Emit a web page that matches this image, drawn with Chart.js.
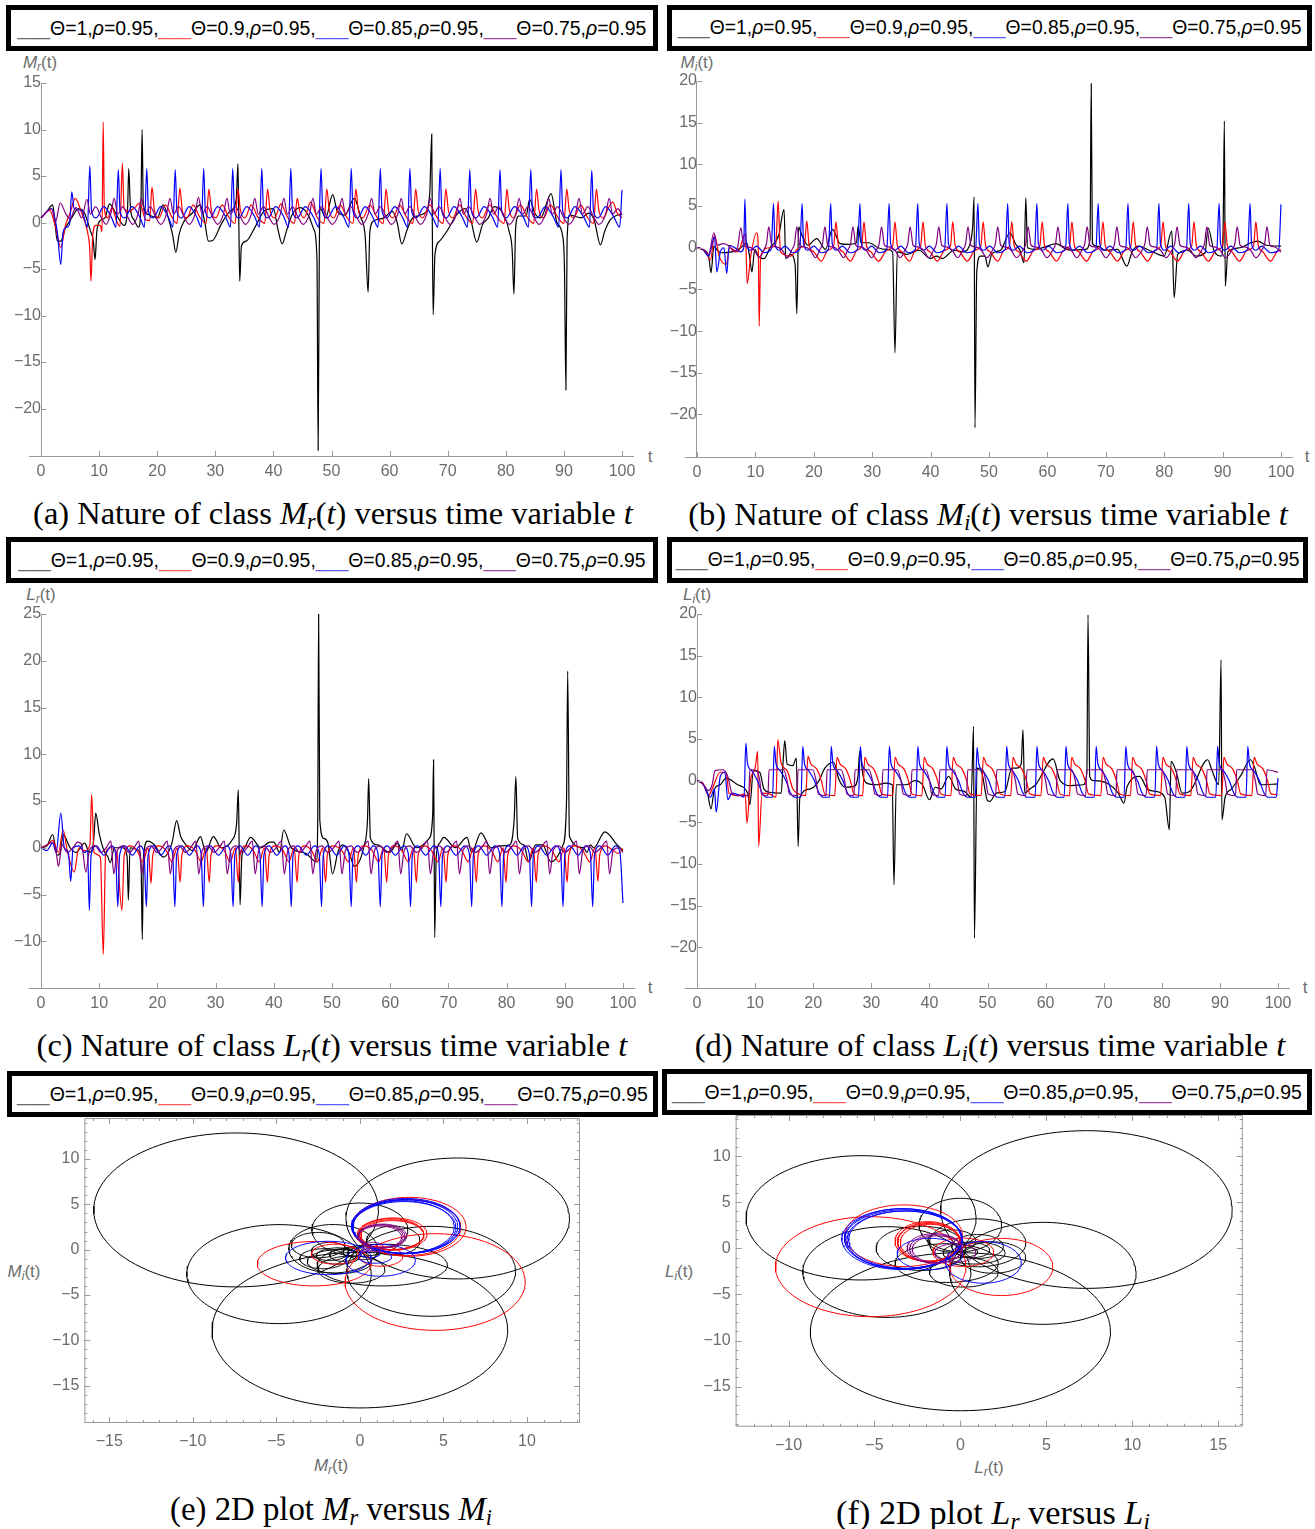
<!DOCTYPE html>
<html>
<head>
<meta charset="utf-8">
<script src="https://cdn.jsdelivr.net/npm/chart.js@4.4.1/dist/chart.umd.min.js"></script>
<style>
body{margin:0;background:#fff;}
#page{position:relative;width:1315px;height:1529px;overflow:hidden;font-family:"Liberation Sans",Arial,sans-serif;background:#fff;}
canvas{position:absolute;}
.legend{position:absolute;box-sizing:border-box;border:5px solid #000;background:#fff;display:flex;align-items:center;justify-content:center;white-space:nowrap;color:#000;font-size:19px;}
.ax{position:absolute;transform:translate(-50%,-50%);color:#6e6e6e;font-size:17px;white-space:nowrap;}
.ax sub{font-size:12px;vertical-align:-3px;line-height:0}
.cap{position:absolute;transform:translate(-50%,-50%);font-family:"Liberation Serif","Times New Roman",serif;font-size:26px;white-space:nowrap;color:#000}
.cap sub{font-size:0.68em;vertical-align:-0.25em;line-height:0}
</style>
</head>
<body>
<div id="page">
  <span class="ax" style="left:40px;top:63px"><i>M</i><sub><i>r</i></sub>(t)</span>
  <span class="ax" style="left:697px;top:63px"><i>M</i><sub><i>i</i></sub>(t)</span>
  <span class="ax" style="left:41px;top:595px"><i>L</i><sub><i>r</i></sub>(t)</span>
  <span class="ax" style="left:697px;top:595px"><i>L</i><sub><i>i</i></sub>(t)</span>
  <span class="ax" style="left:650px;top:457px">t</span>
  <span class="ax" style="left:1307px;top:457px">t</span>
  <span class="ax" style="left:650px;top:988px">t</span>
  <span class="ax" style="left:1305px;top:988px">t</span>
  <span class="ax" style="left:331px;top:1466px"><i>M</i><sub><i>r</i></sub>(t)</span>
  <span class="ax" style="left:24px;top:1272px"><i>M</i><sub><i>i</i></sub>(t)</span>
  <span class="ax" style="left:989px;top:1468px"><i>L</i><sub><i>r</i></sub>(t)</span>
  <span class="ax" style="left:679px;top:1272px"><i>L</i><sub><i>i</i></sub>(t)</span>

  <div class="cap" data-w="600" style="left:333px;top:513px">(a) Nature of class <i>M</i><sub><i>r</i></sub>(<i>t</i>) versus time variable <i>t</i></div>
  <div class="cap" data-w="600" style="left:988px;top:514px">(b) Nature of class <i>M</i><sub><i>i</i></sub>(<i>t</i>) versus time variable <i>t</i></div>
  <div class="cap" data-w="591" style="left:332px;top:1045px">(c) Nature of class <i>L</i><sub><i>r</i></sub>(<i>t</i>) versus time variable <i>t</i></div>
  <div class="cap" data-w="591" style="left:990px;top:1045px">(d) Nature of class <i>L</i><sub><i>i</i></sub>(<i>t</i>) versus time variable <i>t</i></div>
  <div class="cap" data-w="322" style="left:331px;top:1509px">(e) 2D plot <i>M</i><sub><i>r</i></sub> versus <i>M</i><sub><i>i</i></sub></div>
  <div class="cap" data-w="314" style="left:993px;top:1512px">(f) 2D plot <i>L</i><sub><i>r</i></sub> versus <i>L</i><sub><i>i</i></sub></div>
</div>
<script>
// ---- data ----
const thetaValues = ['1', '0.9', '0.85', '0.75'];
const rhoValue = '0.95';
const lineColors = ['#000000', '#ff0000', '#0000ff', '#800080'];
const dashColors = ['#6a6a6a', '#ff5a5a', '#5a5aff', '#a248a2'];

const tTicks = [0, 10, 20, 30, 40, 50, 60, 70, 80, 90, 100];
const aYTicks = [-20, -15, -10, -5, 0, 5, 10, 15];
const bYTicks = [-20, -15, -10, -5, 0, 5, 10, 15, 20];
const cYTicks = [-10, -5, 0, 5, 10, 15, 20, 25];
const dYTicks = [-20, -15, -10, -5, 0, 5, 10, 15, 20];
const eXTicks = [-15, -10, -5, 0, 5, 10];
const eYTicks = [-15, -10, -5, 0, 5, 10];
const fXTicks = [-10, -5, 0, 5, 10, 15];
const fYTicks = [-15, -10, -5, 0, 5, 10];

// (a) M_r(t): pairs t, value
const mrBlack = [0,0.5, 1,1.2, 2,1.9, 2.4,0, 2.8,-2, 3.4,-2, 4.2,-0.6, 5,0.2, 6.5,1.5, 7.5,1.0, 8.5,-0.9, 9.0,-2.0, 9.3,-4.0, 9.6,-1.0, 10.2,0.2, 11,0.5, 11.8,2.0, 13,0.8, 14.3,-0.3, 14.9,1.5, 15.1,5.8, 15.4,1.5, 16,0.3, 16.8,-0.5, 17.2,2, 17.4,10, 17.6,2, 18.3,0.9, 20,0.5, 21,1.9, 22,0.3, 22.7,-1.5, 23.2,-3.2, 23.8,-1.2, 24.5,0, 26,1.0, 27.4,1.9, 28.2,0, 28.8,-2.0, 29.6,-1.9, 31,-0.2, 32.5,1.2, 33.6,2.5, 33.9,6.3, 34.05,0, 34.2,-6.3, 34.5,-2.5, 35.3,-2.0, 37,-0.3, 38.5,1.3, 40,1.5, 40.8,-0.8, 41.5,-2.3, 42.2,-1.0, 43.2,0.8, 44.6,1.6, 46,0.8, 47,-0.8, 47.5,-4, 47.7,-24.5, 47.9,-3, 48.1,1.5, 49,0.5, 50.2,3.0, 51,1.2, 52.3,0.8, 53.9,2.6, 55,0.6, 55.8,-1.5, 56.3,-7.5, 56.6,-1, 57.3,0.2, 59,0.5, 60.5,1.2, 61.3,0, 62.1,-2.3, 63,-0.8, 64,0.5, 66,1.0, 66.9,3, 67.25,9.5, 67.35,0, 67.5,-9.9, 67.8,-3.5, 68.6,-2, 70,-0.8, 71.5,0.8, 73,1.5, 74,0.2, 75,-2.1, 76,-0.2, 77,0.5, 78,1.7, 79.5,1.0, 80.6,-1.0, 81.1,-3, 81.4,-7.7, 81.7,-0.5, 82.2,0.7, 83.5,0.7, 84.1,2.5, 85,1.0, 86,0.5, 87.8,3.1, 88.8,0, 89.8,-1.5, 90.1,-5, 90.35,-18, 90.55,-2, 91,0.8, 93,0.5, 94.3,1.0, 95.2,0.3, 96.3,-2.4, 97,-1.0, 98,0.3, 100,1.0];
const mrRed = [0,0.5, 1.5,1.3, 2.5,-0.5, 3.4,-2.7, 4.2,-0.3, 5.0,1.0, 5.9,2.6, 7,1.0, 8,-1.0, 8.4,-3, 8.6,-6.3, 8.9,-1.5, 9.4,-0.3, 10.2,-0.3, 10.5,-1.0, 10.7,10.8, 10.9,1.5, 11.5,0.5, 12.2,1.6, 13,0.2, 13.6,-0.4, 14,6.4, 14.3,1.5, 15,1.2, 16,1.5, 17,2.1, 18,0.3, 18.7,0.2,
  19.1,3.8, 19.5,1.4, 20.3,0.5, 21.4,1.9, 22.5,0.6, 23.4,-0.1,
  23.9,3.7, 24.3,1.4, 25.1,0.5, 26.2,1.9, 27.3,0.6, 28.4,-0.1,
  28.9,3.6, 29.3,1.4, 30.1,0.5, 31.2,1.9, 32.3,0.6, 33.4,-0.1,
  33.9,3.6, 34.3,1.4, 35.1,0.5, 36.2,1.9, 37.3,0.6, 38.5,-0.1,
  39.0,3.6, 39.4,1.4, 40.2,0.5, 41.3,2.0, 42.4,0.6, 43.6,-0.1,
  44.1,2.6, 44.5,1.3, 45.3,0.5, 46.4,2.2, 47.5,0.6, 48.7,-0.1,
  49.2,3.6, 49.6,1.4, 50.4,0.5, 51.5,1.9, 52.6,0.6, 53.7,-0.1,
  54.2,3.6, 54.6,1.4, 55.4,0.5, 56.6,1.9, 57.8,0.6, 58.9,-0.1,
  59.4,3.6, 59.8,1.4, 60.6,0.5, 61.7,1.9, 62.9,0.6, 64.0,-0.1,
  64.5,3.6, 64.9,1.4, 65.7,0.5, 66.9,1.9, 68.1,0.6, 69.2,-0.1,
  69.7,3.6, 70.1,1.4, 70.9,0.5, 72.0,1.9, 73.2,0.6, 74.3,-0.1,
  74.8,3.6, 75.2,1.4, 76.0,0.5, 77.2,1.9, 78.5,0.6, 79.7,-0.1,
  80.2,3.6, 80.6,1.4, 81.4,0.5, 82.5,1.9, 83.7,0.6, 84.8,-0.1,
  85.3,3.6, 85.7,1.4, 86.5,0.5, 87.7,1.9, 88.9,0.6, 90.0,-0.1,
  90.5,3.6, 90.9,1.4, 91.7,0.5, 92.9,1.9, 94.0,0.6, 95.1,-0.1,
  95.6,3.6, 96.0,1.4, 96.8,0.5, 97.6,1.5, 98.4,2.2, 99.2,1.0, 100,0.5];
const mrBlue = [0,0.5, 1.8,1.5, 2.8,-1.0, 3.4,-4.5, 3.8,-1.0, 4.4,-0.5, 4.9,-0.2, 5.3,3.3, 5.7,1.5, 7,1.3, 8.0,-0.5, 8.4,6.1,
  8.7,1.2, 9.5,0.5, 10.8,1.7, 12.1,0.6, 12.9,-0.5, 13.3,5.7,
  13.6,1.2, 14.4,0.5, 15.7,1.7, 17.0,0.6, 17.8,-0.5, 18.2,5.8,
  18.5,1.2, 19.3,0.5, 20.6,1.7, 21.9,0.6, 22.7,-0.5, 23.1,5.7,
  23.4,1.2, 24.2,0.5, 25.5,1.7, 26.8,0.6, 27.6,-0.5, 28.0,5.8,
  28.3,1.2, 29.1,0.5, 30.4,1.7, 31.8,0.6, 32.6,-0.5, 33.0,5.8,
  33.3,1.2, 34.1,0.5, 35.4,1.7, 36.8,0.6, 37.6,-0.5, 38.0,5.8,
  38.3,1.2, 39.1,0.5, 40.4,1.7, 41.8,0.6, 42.6,-0.5, 43.0,5.8,
  43.3,1.2, 44.1,0.5, 45.5,1.7, 46.9,0.6, 47.8,-0.5, 48.2,5.8,
  48.5,1.2, 49.3,0.5, 50.7,1.7, 52.1,0.6, 53.0,-0.5, 53.4,5.8,
  53.7,1.2, 54.5,0.5, 55.8,1.7, 57.1,0.6, 58.0,-0.5, 58.4,5.8,
  58.7,1.2, 59.5,0.5, 60.9,1.7, 62.2,0.6, 63.1,-0.5, 63.5,5.8,
  63.8,1.2, 64.6,0.5, 66.0,1.7, 67.4,0.6, 68.3,-0.5, 68.7,5.8,
  69.0,1.2, 69.8,0.5, 71.1,1.7, 72.5,0.6, 73.4,-0.5, 73.8,5.7,
  74.1,1.2, 74.9,0.5, 76.3,1.7, 77.7,0.6, 78.6,-0.5, 79.0,5.7,
  79.3,1.2, 80.1,0.5, 81.5,1.7, 83.0,0.6, 83.9,-0.5, 84.3,5.7,
  84.6,1.2, 85.4,0.5, 86.8,1.7, 88.2,0.6, 89.1,-0.5, 89.5,5.7,
  89.8,1.2, 90.6,0.5, 91.9,1.7, 93.4,0.6, 94.4,-0.5, 94.8,5.6,
  95.1,1.2, 95.9,0.5, 97.2,1.7, 98.6,0.6, 99.6,-0.5, 100,3.5];
const mrPurple = [0,0.5, 1.8,1.5, 2.5,0.1, 3.3,2.1, 4.3,0.9, 5.0,0.4, 6.0,1.6, 7.0,0.5, 7.9,2.5,
  8.5,0.9, 9.4,1.7, 10.4,0.5, 11.2,-0.2, 12.0,0.9, 12.6,2.6,
  13.2,0.9, 14.1,1.7, 15.0,0.5, 15.8,-0.2, 16.7,0.9, 17.3,2.6,
  17.9,0.9, 18.8,1.7, 19.8,0.5, 20.6,-0.2, 21.6,0.9, 22.2,2.6,
  22.8,0.9, 23.7,1.7, 24.7,0.5, 25.5,-0.2, 26.5,0.9, 27.1,2.7,
  27.7,0.9, 28.6,1.7, 29.6,0.5, 30.4,-0.2, 31.4,0.9, 32.0,2.6,
  32.6,0.9, 33.5,1.7, 34.4,0.5, 35.2,-0.2, 36.2,0.9, 36.8,2.6,
  37.4,0.9, 38.3,1.7, 39.3,0.5, 40.1,-0.2, 41.2,0.9, 41.8,2.6,
  42.4,0.9, 43.3,1.7, 44.3,0.5, 45.1,-0.2, 46.2,0.9, 46.8,2.6,
  47.4,0.9, 48.3,1.7, 49.3,0.5, 50.1,-0.2, 51.2,0.9, 51.8,2.6,
  52.4,0.9, 53.3,1.7, 54.4,0.5, 55.2,-0.2, 56.3,0.9, 56.9,2.6,
  57.5,0.9, 58.4,1.7, 59.5,0.5, 60.3,-0.2, 61.4,0.9, 62.0,2.6,
  62.6,0.9, 63.5,1.7, 64.5,0.5, 65.3,-0.2, 66.4,0.9, 67.0,2.6,
  67.6,0.9, 68.5,1.7, 69.6,0.5, 70.4,-0.2, 71.5,0.9, 72.1,2.6,
  72.7,0.9, 73.6,1.7, 74.7,0.5, 75.5,-0.2, 76.7,0.9, 77.3,2.6,
  77.9,0.9, 78.8,1.7, 79.8,0.5, 80.6,-0.2, 81.7,0.9, 82.3,2.6,
  82.9,0.9, 83.8,1.7, 84.9,0.5, 85.7,-0.2, 86.8,0.9, 87.4,2.6,
  88.0,0.9, 88.9,1.7, 90.0,0.5, 90.8,-0.2, 92.0,0.9, 92.6,2.6,
  93.2,0.9, 94.1,1.7, 95.2,0.5, 96.0,-0.2, 97.2,0.9, 97.8,2.6,
  98.4,0.9, 99.3,1.5, 100,0.8];

// (b) M_i(t)
const miBlack = [0,0, 1,-0.2, 2,-1.0, 2.4,-3.0, 2.9,0.2, 3.5,-0.3, 4.2,-0.6, 6,-0.5, 7.5,0.0, 8.5,0.6, 9.0,-1.0, 9.4,-2.9, 9.9,-0.2, 10.5,-1.0, 11.5,-1.3, 12.5,0.0, 14,1.5, 14.9,4.6, 15.2,-1.3, 16,-0.8, 16.8,-2.0, 17.1,-7.9, 17.4,2.5, 17.8,1.8, 19,0.3, 20.5,1.1, 22,-0.2, 23.2,2.2, 24.5,0.5, 26,0.4, 27.3,0.6, 27.6,2.6, 28.1,0.6, 29.5,0.6, 31,0.0, 32.5,-0.2, 33.5,-0.5, 33.9,-12.6, 34.3,-0.5, 36,-0.8, 38,-0.3, 40,-1.3, 41,-1.0, 42,-1.3, 44,-0.3, 45.5,-0.5, 46.5,0.0, 47.2,2.5, 47.45,6.1, 47.6,-21.6, 47.9,-3.0, 48.5,-1.0, 49.3,-1.0, 49.8,-2.3, 50.5,-0.7, 52,-0.3, 53.6,1.8, 54.5,0.5, 55.3,-0.3, 56.0,-1.8, 56.3,6.0, 56.6,0.0, 58,-0.2, 60,0.2, 61.5,0.5, 63,-0.1, 64,-0.3, 66.5,-0.2, 67.3,1, 67.5,19.7, 67.7,0.5, 68.5,0.2, 70,-0.3, 72,-0.2, 73.6,-2.2, 74.5,-0.5, 75.5,0.2, 78,-0.5, 80,-1.0, 81.3,2.0, 81.7,-6.0, 82.3,-0.8, 84,-0.3, 85.5,-1.0, 87,-0.6, 87.5,2.4, 88.5,-0.3, 89.8,-1.0, 90.1,3, 90.3,15.2, 90.45,-4.6, 90.9,-0.5, 93,0.0, 94.5,0.5, 96,0.8, 97.5,0.3, 100,0.2];
const miRed = [0,0, 1.5,-0.5, 2.3,-1.5, 3.0,1.5, 3.8,-1.0, 5.0,-2.0, 5.6,0.0, 7.0,-0.5, 8.3,1.7, 8.6,-4.3, 9.2,-1.0, 10.2,1.8, 10.5,0.0, 10.65,-9.4, 10.9,-1.0, 12.5,0.0, 13.5,0.5, 13.9,5.6, 14.3,-0.5, 16,-1.0, 17.5,0.0, 18.4,0.3, 18.8,3.2,
  19.2,0.3, 20.0,-0.5, 21.3,-1.6, 22.4,-0.3, 23.4,0.2, 23.8,3.1,
  24.2,0.3, 25.0,-0.5, 26.3,-1.6, 27.4,-0.3, 28.2,0.2, 28.6,3.1,
  29.0,0.3, 29.8,-0.5, 31.1,-1.6, 32.5,-0.3, 33.5,0.2, 33.9,3.1,
  34.3,0.3, 35.1,-0.5, 36.4,-1.6, 37.4,-0.3, 38.3,0.2, 38.7,3.1,
  39.1,0.3, 39.9,-0.5, 41.2,-1.6, 42.4,-0.3, 43.4,0.2, 43.8,3.1,
  44.2,0.3, 45.0,-0.5, 46.3,-1.6, 47.6,-0.3, 48.6,0.2, 49.0,3.1,
  49.4,0.3, 50.2,-0.5, 51.5,-1.6, 52.6,-0.3, 53.5,0.2, 53.9,3.1,
  54.3,0.3, 55.1,-0.5, 56.4,-1.6, 57.7,-0.3, 58.7,0.2, 59.1,3.1,
  59.5,0.3, 60.3,-0.5, 61.6,-1.6, 62.8,-0.3, 63.8,0.2, 64.2,3.1,
  64.6,0.3, 65.4,-0.5, 66.7,-1.6, 68.0,-0.3, 69.1,0.2, 69.5,3.1,
  69.9,0.3, 70.7,-0.5, 72.0,-1.6, 73.3,-0.3, 74.3,0.2, 74.7,3.1,
  75.1,0.3, 75.9,-0.5, 77.2,-1.6, 78.4,-0.3, 79.4,0.2, 79.8,3.1,
  80.2,0.3, 81.0,-0.5, 82.3,-1.6, 83.6,-0.3, 84.7,0.2, 85.1,3.1,
  85.5,0.3, 86.3,-0.5, 87.6,-1.6, 88.9,-0.3, 90.0,0.2, 90.4,3.1,
  90.8,0.3, 91.6,-0.5, 92.9,-1.6, 94.2,-0.3, 95.3,0.2, 95.7,3.1,
  96.1,0.3, 96.9,-0.5, 98.2,-1.6, 99.3,-0.5, 100,-0.2];
const miBlue = [0,0, 1,-0.2, 2,-1.0, 3.0,1.3, 3.4,-2.9, 4.0,-0.5, 4.6,0.0, 5.1,-3.1, 5.5,0.3, 6.5,0.0, 7.5,-0.5, 8.0,0.0, 8.2,5.8,
  8.45,0.5, 9.2,-0.3, 10.2,0.2, 11.5,-0.6, 12.7,-0.2, 13.1,5.3,
  13.35,0.5, 14.1,-0.3, 15.1,0.2, 16.4,-0.6, 17.6,-0.2, 18.0,5.3,
  18.25,0.5, 19.0,-0.3, 20.0,0.2, 21.3,-0.6, 22.5,-0.2, 22.9,5.3,
  23.15,0.5, 23.9,-0.3, 24.9,0.2, 26.2,-0.6, 27.5,-0.2, 27.9,5.3,
  28.15,0.5, 28.9,-0.3, 29.9,0.2, 31.2,-0.6, 32.5,-0.2, 32.9,5.3,
  33.15,0.5, 33.9,-0.3, 34.9,0.2, 36.2,-0.6, 37.4,-0.2, 37.8,5.3,
  38.05,0.5, 38.8,-0.3, 39.8,0.2, 41.1,-0.6, 42.4,-0.2, 42.8,5.3,
  43.05,0.5, 43.8,-0.3, 44.8,0.2, 46.2,-0.6, 47.7,-0.2, 48.1,5.3,
  48.35,0.5, 49.1,-0.3, 50.1,0.2, 51.5,-0.6, 52.8,-0.2, 53.2,5.3,
  53.45,0.5, 54.2,-0.3, 55.2,0.2, 56.5,-0.6, 57.8,-0.2, 58.2,5.3,
  58.45,0.5, 59.2,-0.3, 60.2,0.2, 61.6,-0.6, 63.1,-0.2, 63.5,5.3,
  63.75,0.5, 64.5,-0.3, 65.5,0.2, 66.9,-0.6, 68.3,-0.2, 68.7,5.3,
  68.95,0.5, 69.7,-0.3, 70.7,0.2, 72.1,-0.6, 73.4,-0.2, 73.8,5.3,
  74.05,0.5, 74.8,-0.3, 75.8,0.2, 77.3,-0.6, 78.7,-0.2, 79.1,5.3,
  79.35,0.5, 80.1,-0.3, 81.1,0.2, 82.5,-0.6, 83.8,-0.2, 84.2,5.3,
  84.45,0.5, 85.2,-0.3, 86.2,0.2, 87.6,-0.6, 89.0,-0.2, 89.4,5.3,
  89.65,0.5, 90.4,-0.3, 91.4,0.2, 92.9,-0.6, 94.3,-0.2, 94.7,5.3,
  94.95,0.5, 95.7,-0.3, 96.7,0.2, 98.2,-0.6, 99.6,-0.3, 100,5.2];
const miPurple = [0,0, 1,-0.2, 2.0,-0.8, 2.9,1.8, 3.5,0.3, 4.5,0.5, 5.5,0.2, 6.5,-0.5, 7.0,0.2, 7.5,2.4,
  8.0,0.3, 8.8,0.1, 9.8,-0.3, 10.7,-1.2, 11.4,-0.3, 11.9,0.5, 12.3,2.5,
  12.8,0.3, 13.6,0.1, 14.6,-0.3, 15.5,-1.2, 16.2,-0.3, 16.7,0.5, 17.1,2.5,
  17.6,0.3, 18.4,0.1, 19.4,-0.3, 20.3,-1.2, 21.0,-0.3, 21.5,0.5, 21.9,2.5,
  22.4,0.3, 23.2,0.1, 24.2,-0.3, 25.1,-1.2, 25.8,-0.3, 26.3,0.5, 26.7,2.5,
  27.2,0.3, 28.0,0.1, 29.0,-0.3, 29.9,-1.2, 30.7,-0.3, 31.2,0.5, 31.6,2.5,
  32.1,0.3, 32.9,0.1, 33.9,-0.3, 34.8,-1.2, 35.6,-0.3, 36.1,0.5, 36.5,2.5,
  37.0,0.3, 37.8,0.1, 38.8,-0.3, 39.7,-1.2, 40.5,-0.3, 41.0,0.5, 41.4,2.5,
  41.9,0.3, 42.7,0.1, 43.7,-0.3, 44.6,-1.2, 45.5,-0.3, 46.0,0.5, 46.4,2.5,
  46.9,0.3, 47.7,0.1, 48.7,-0.3, 49.6,-1.2, 50.6,-0.3, 51.1,0.5, 51.5,2.5,
  52.0,0.3, 52.8,0.1, 53.8,-0.3, 54.7,-1.2, 55.8,-0.3, 56.3,0.5, 56.7,2.5,
  57.2,0.3, 58.0,0.1, 59.0,-0.3, 59.9,-1.2, 60.9,-0.3, 61.4,0.5, 61.8,2.5,
  62.3,0.3, 63.1,0.1, 64.1,-0.3, 65.0,-1.2, 65.9,-0.3, 66.4,0.5, 66.8,2.5,
  67.3,0.3, 68.1,0.1, 69.1,-0.3, 70.0,-1.2, 71.0,-0.3, 71.5,0.5, 71.9,2.5,
  72.4,0.3, 73.2,0.1, 74.2,-0.3, 75.1,-1.2, 76.2,-0.3, 76.7,0.5, 77.1,2.5,
  77.6,0.3, 78.4,0.1, 79.4,-0.3, 80.3,-1.2, 81.3,-0.3, 81.8,0.5, 82.2,2.5,
  82.7,0.3, 83.5,0.1, 84.5,-0.3, 85.4,-1.2, 86.4,-0.3, 86.9,0.5, 87.3,2.5,
  87.8,0.3, 88.6,0.1, 89.6,-0.3, 90.5,-1.2, 91.6,-0.3, 92.1,0.5, 92.5,2.5,
  93.0,0.3, 93.8,0.1, 94.8,-0.3, 95.7,-1.2, 96.7,-0.3, 97.2,0.5, 97.6,2.5,
  98.1,0.3, 98.9,0.1, 100,-0.5];

// (c) L_r(t)
const lrBlack = [0,0, 1,0.2, 2.0,1.4, 2.8,-0.8, 3.3,-0.5, 3.8,1.4, 5.0,0.0, 6.0,-0.5, 7.5,0.5, 8.3,-0.5, 9.0,0.5, 9.4,3.7, 10.0,1.5, 10.8,-0.3, 11.5,-1.0, 11.9,-1.6, 12.6,0.0, 14.0,0.0, 14.8,-1, 15.0,-5.6, 15.3,0.0, 16.8,-0.3, 17.2,-2, 17.4,-9.8, 17.6,-1.0, 18.3,0.7, 19.5,0.3, 21.0,-1.0, 22.5,0.5, 23.3,2.9, 24.0,1.2, 24.8,0.4, 26.0,-0.3, 27.4,1.2, 28.3,-0.5, 29.6,1.2, 31.0,0.0, 32.8,0.8, 33.6,2.5, 33.9,6.2, 34.05,0, 34.2,-6.1, 34.5,-1.0, 35.0,0.0, 36.0,1.1, 37.8,0.0, 39.3,0.6, 40.0,0.6, 41.0,-0.5, 41.7,1.9, 43.0,0.0, 45.5,-0.6, 47.3,-1.5, 47.55,3, 47.7,25.0, 47.9,3.0, 48.6,1.0, 49.3,0.5, 50.1,-2.8, 51.0,-0.5, 51.8,0.3, 53.0,-0.6, 53.8,-2.0, 55.5,0.2, 56.1,3, 56.3,7.4, 56.6,1.0, 57.8,0.3, 59.9,-0.5, 61.3,0.5, 62.0,-0.3, 62.8,1.5, 64.5,0.0, 66.7,1.0, 67.3,3.5, 67.45,9.4, 67.55,0, 67.65,-9.6, 67.9,-1.0, 68.5,0.5, 69.2,1.1, 71.2,0.0, 73.2,1.1, 74.0,-0.5, 75.6,1.6, 77.3,0.0, 79.0,0.2, 80.5,0.3, 81.3,3, 81.6,7.6, 81.9,1.0, 83.0,0.3, 83.8,-1.5, 85.0,0.3, 86.2,0.3, 87.6,-1.5, 89.7,0.3, 90.3,5, 90.5,18.9, 90.8,1.2, 93.2,0.0, 93.8,-0.5, 94.4,0.3, 95.0,0.0, 96.9,1.7, 99.0,0.3, 100,-0.3];
const lrRed = [0,0, 1,0.3, 2.0,0.8, 3.0,-0.5, 3.8,1.9, 4.5,-0.3, 5.7,-2.6, 6.5,0.0, 7.5,-0.3, 8.4,0.3, 8.7,5.7, 9.1,-0.5, 10.2,-1.0, 10.7,-11.4, 11.1,-0.5, 12.0,0.0, 13.0,-0.5, 13.9,-6.7, 14.3,-0.8, 15.3,0.2,
  16.5,-0.3, 17.5,-1.5, 18.4,0.0, 18.9,-3.8,
  19.2,-0.8, 20.2,0.2, 21.5,-0.3, 22.5,-1.5, 23.4,0.0, 23.9,-3.7,
  24.2,-0.8, 25.2,0.2, 26.5,-0.3, 27.5,-1.5, 28.4,0.0, 28.9,-3.7,
  29.2,-0.8, 30.2,0.2, 31.5,-0.3, 32.5,-1.5, 33.4,0.0, 33.9,-3.7,
  34.2,-0.8, 35.2,0.2, 36.5,-0.3, 37.5,-1.5, 38.4,0.0, 38.9,-3.7,
  39.2,-0.8, 40.2,0.2, 41.6,-0.3, 42.6,-1.5, 43.5,0.0, 44.0,-3.7,
  44.3,-0.8, 45.3,0.2, 46.5,-0.3, 47.5,-1.5, 48.4,0.0, 48.9,-3.7,
  49.2,-0.8, 50.2,0.2, 51.7,-0.3, 52.8,-1.5, 53.7,0.0, 54.2,-3.7,
  54.5,-0.8, 55.5,0.2, 56.9,-0.3, 58.0,-1.5, 58.9,0.0, 59.4,-3.7,
  59.7,-0.8, 60.7,0.2, 62.0,-0.3, 63.1,-1.5, 64.0,0.0, 64.5,-3.7,
  64.8,-0.8, 65.8,0.2, 67.1,-0.3, 68.2,-1.5, 69.1,0.0, 69.6,-3.7,
  69.9,-0.8, 70.9,0.2, 72.3,-0.3, 73.4,-1.5, 74.3,0.0, 74.8,-3.7,
  75.1,-0.8, 76.1,0.2, 77.4,-0.3, 78.5,-1.5, 79.4,0.0, 79.9,-3.7,
  80.2,-0.8, 81.2,0.2, 82.6,-0.3, 83.7,-1.5, 84.6,0.0, 85.1,-3.7,
  85.4,-0.8, 86.4,0.2, 87.8,-0.3, 89.0,-1.5, 89.9,0.0, 90.4,-3.7,
  90.7,-0.8, 91.7,0.2, 93.1,-0.3, 94.3,-1.5, 95.2,0.0, 95.7,-3.6,
  96.0,-0.8, 97.0,0.2, 98.3,-0.3, 99.2,-0.6, 100,-0.1];
const lrBlue = [0,0, 1,-0.3, 2.0,0.5, 2.6,-0.5, 3.4,3.7, 4.0,0.0, 4.7,-0.5, 5.1,-3.6, 5.5,0.0, 6.5,0.2, 7.5,-0.5, 8.0,-0.3, 8.3,-6.7,
  8.6,-0.8, 9.5,0.2, 10.8,-0.8, 12.1,0.2, 12.8,-0.6, 13.2,-6.3,
  13.5,-0.8, 14.4,0.2, 15.7,-0.8, 17.0,0.2, 17.7,-0.6, 18.1,-6.3,
  18.4,-0.8, 19.3,0.2, 20.6,-0.8, 21.9,0.2, 22.6,-0.6, 23.0,-6.3,
  23.3,-0.8, 24.2,0.2, 25.5,-0.8, 26.8,0.2, 27.5,-0.6, 27.9,-6.3,
  28.2,-0.8, 29.1,0.2, 30.5,-0.8, 31.9,0.2, 32.6,-0.6, 33.0,-6.3,
  33.3,-0.8, 34.2,0.2, 35.5,-0.8, 36.9,0.2, 37.6,-0.6, 38.0,-6.3,
  38.3,-0.8, 39.2,0.2, 40.5,-0.8, 41.9,0.2, 42.6,-0.6, 43.0,-6.3,
  43.3,-0.8, 44.2,0.2, 45.6,-0.8, 47.0,0.2, 47.8,-0.6, 48.2,-6.3,
  48.5,-0.8, 49.4,0.2, 50.8,-0.8, 52.1,0.2, 52.9,-0.6, 53.3,-6.3,
  53.6,-0.8, 54.5,0.2, 55.8,-0.8, 57.1,0.2, 57.9,-0.6, 58.3,-6.3,
  58.6,-0.8, 59.5,0.2, 60.9,-0.8, 62.3,0.2, 63.1,-0.6, 63.5,-6.3,
  63.8,-0.8, 64.7,0.2, 66.1,-0.8, 67.5,0.2, 68.3,-0.6, 68.7,-6.3,
  69.0,-0.8, 69.9,0.2, 71.3,-0.8, 72.8,0.2, 73.6,-0.6, 74.0,-6.3,
  74.3,-0.8, 75.2,0.2, 76.6,-0.8, 78.0,0.2, 78.8,-0.6, 79.2,-6.3,
  79.5,-0.8, 80.4,0.2, 81.8,-0.8, 83.1,0.2, 83.9,-0.6, 84.3,-6.3,
  84.6,-0.8, 85.5,0.2, 86.9,-0.8, 88.4,0.2, 89.3,-0.6, 89.7,-6.3,
  90.0,-0.8, 90.9,0.2, 92.3,-0.8, 93.6,0.2, 94.4,-0.6, 94.8,-6.3,
  95.1,-0.8, 96.0,0.2, 97.4,-0.8, 98.7,0.2, 99.5,-0.6, 100,-5.9];
const lrPurple = [0,0, 1,0.3, 2.0,0.6, 2.6,-0.5, 3.0,-2.0, 3.6,0.3, 4.5,-0.5, 5.5,0.0, 6.3,0.6, 7.0,0.3, 7.7,-2.6,
  8.3,-0.3, 9.3,0.2, 10.3,-0.5, 11.2,0.0, 12.0,0.7, 12.5,-2.8,
  13.1,-0.3, 14.1,0.2, 15.1,-0.5, 16.0,0.0, 16.8,0.7, 17.3,-2.8,
  17.9,-0.3, 18.9,0.2, 19.9,-0.5, 20.8,0.0, 21.7,0.7, 22.2,-2.8,
  22.8,-0.3, 23.8,0.2, 24.8,-0.5, 25.7,0.0, 26.6,0.7, 27.1,-2.8,
  27.7,-0.3, 28.7,0.2, 29.7,-0.5, 30.6,0.0, 31.5,0.7, 32.0,-2.8,
  32.6,-0.3, 33.6,0.2, 34.5,-0.5, 35.4,0.0, 36.3,0.7, 36.8,-2.8,
  37.4,-0.3, 38.4,0.2, 39.4,-0.5, 40.4,0.0, 41.3,0.7, 41.8,-2.8,
  42.4,-0.3, 43.4,0.2, 44.4,-0.5, 45.3,0.0, 46.2,0.7, 46.7,-2.8,
  47.3,-0.3, 48.3,0.2, 49.3,-0.5, 50.3,0.0, 51.2,0.7, 51.7,-2.8,
  52.3,-0.3, 53.3,0.2, 54.3,-0.5, 55.3,0.0, 56.2,0.7, 56.7,-2.8,
  57.3,-0.3, 58.3,0.2, 59.4,-0.5, 60.4,0.0, 61.3,0.7, 61.8,-2.8,
  62.4,-0.3, 63.4,0.2, 64.5,-0.5, 65.5,0.0, 66.4,0.7, 66.9,-2.8,
  67.5,-0.3, 68.5,0.2, 69.5,-0.5, 70.5,0.0, 71.4,0.7, 71.9,-2.8,
  72.5,-0.3, 73.5,0.2, 74.6,-0.5, 75.7,0.0, 76.6,0.7, 77.1,-2.8,
  77.7,-0.3, 78.7,0.2, 79.7,-0.5, 80.8,0.0, 81.7,0.7, 82.2,-2.8,
  82.8,-0.3, 83.8,0.2, 84.9,-0.5, 85.9,0.0, 86.9,0.7, 87.4,-2.8,
  88.0,-0.3, 89.0,0.2, 90.0,-0.5, 91.0,0.0, 92.0,0.7, 92.5,-2.8,
  93.1,-0.3, 94.1,0.2, 95.2,-0.5, 96.2,0.0, 97.2,0.7, 97.7,-2.8,
  98.3,-0.3, 99.3,0.0, 100,-0.5];

// (d) L_i(t)
const liBlack = [0,0, 1,-0.4, 1.8,-1.5, 2.4,-3.4, 3.0,-1.0, 4.0,-0.5, 5.0,0.3, 7.0,-0.5, 8.7,-1.5, 9.1,-2.9, 9.7,1.2, 10.8,1.0, 11.5,-1.0, 12.5,-1.4, 14.5,-1.5, 14.8,2, 15.1,4.8, 15.5,2.0, 16.5,1.8, 17.1,2.7, 17.4,-7.9, 17.7,-2.0, 19.5,-1.0, 21.0,0.0, 22.0,1.5, 23.5,2.2, 24.5,0.0, 25.5,-0.8, 27.0,-0.7, 27.7,0.5, 28.0,3.5, 28.6,0.5, 29.2,-0.3, 31.0,-0.5, 32.5,-0.3, 33.6,-0.5, 33.9,-12.5, 34.3,-0.5, 36.0,-0.5, 37.5,0.0, 38.8,-0.5, 40.0,-2.3, 41.0,-0.8, 42.0,-1.0, 43.3,0.5, 44.5,-1.0, 46.0,-1.3, 47.2,-2.0, 47.6,6.5, 47.75,-18.9, 48.2,1.5, 49.0,1.0, 50.0,-2.4, 50.4,-2.5, 51.5,-1.5, 53.0,-1.3, 54.2,1.5, 55.0,1.5, 55.8,2.0, 56.1,6.1, 56.4,-1.5, 57.3,-1.0, 58.3,-0.5, 61.3,2.6, 62.5,0.0, 64.4,-0.6, 66.5,-0.5, 67.1,1, 67.3,19.9, 67.6,0.5, 68.2,0.0, 70.5,-0.3, 72.5,-1.5, 73.5,-2.7, 74.0,-0.8, 76.2,0.5, 77.5,-1.0, 79.0,-1.3, 80.5,-2.0, 81.3,-5.9, 81.6,2.3, 82.5,1.0, 83.5,-1.5, 84.8,-1.3, 87.9,2.5, 88.6,1.3, 89.8,-0.5, 90.2,14.5, 90.35,-4.7, 90.9,-2.0, 92.0,-1.0, 93.5,0.5, 95.3,2.5, 96.0,1.5, 97.0,-0.5, 100,-0.4];
const liRed = [0,0, 1,-0.3, 2.0,-1.8, 2.6,-1.0, 4.0,1.0, 5.0,1.0, 5.5,-1.5, 7.0,-1.8, 8.3,-1.6, 8.6,-5.1, 9.2,0.0, 10.0,1.5, 10.45,3.5, 10.6,-7.9, 11.2,-1.5, 12.5,-1.6, 13.6,-2.0, 13.9,4.9, 14.5,2.0, 15.5,1.2, 16.5,-1.0, 17.5,-1.6, 18.7,-1.8, 19.1,2.9,
  19.6,2.0, 20.6,1.4, 21.4,0.0, 22.0,-1.6, 23.7,-1.8, 24.1,2.8,
  24.6,2.0, 25.6,1.4, 26.4,0.0, 27.0,-1.6, 28.5,-1.8, 28.9,2.8,
  29.4,2.0, 30.4,1.4, 31.2,0.0, 31.8,-1.6, 33.7,-1.8, 34.1,2.8,
  34.6,2.0, 35.6,1.4, 36.4,0.0, 37.0,-1.6, 38.7,-1.8, 39.1,2.8,
  39.6,2.0, 40.6,1.4, 41.4,0.0, 42.0,-1.6, 43.7,-1.8, 44.1,2.8,
  44.6,2.0, 45.6,1.4, 46.4,0.0, 47.0,-1.6, 48.9,-1.8, 49.3,2.8,
  49.8,2.0, 50.8,1.4, 51.6,0.0, 52.2,-1.6, 54.0,-1.8, 54.4,2.8,
  54.9,2.0, 55.9,1.4, 56.7,0.0, 57.3,-1.6, 59.2,-1.8, 59.6,2.8,
  60.1,2.0, 61.1,1.4, 61.9,0.0, 62.5,-1.6, 64.1,-1.8, 64.5,2.8,
  65.0,2.0, 66.0,1.4, 66.8,0.0, 67.4,-1.6, 69.5,-1.8, 69.9,2.8,
  70.4,2.0, 71.4,1.4, 72.2,0.0, 72.8,-1.6, 74.6,-1.8, 75.0,2.8,
  75.5,2.0, 76.5,1.4, 77.3,0.0, 77.9,-1.6, 79.8,-1.8, 80.2,2.8,
  80.7,2.0, 81.7,1.4, 82.5,0.0, 83.1,-1.6, 85.0,-1.8, 85.4,2.8,
  85.9,2.0, 86.9,1.4, 87.7,0.0, 88.3,-1.6, 90.3,-1.8, 90.7,2.8,
  91.2,2.0, 92.2,1.4, 93.0,0.0, 93.6,-1.6, 95.5,-1.8, 95.9,2.8,
  96.4,2.0, 97.4,1.4, 98.2,0.0, 98.8,-1.6, 100,-1.7];
const liBlue = [0,0, 1,-0.4, 2.3,-2.0, 3.0,-1.0, 3.3,-3.8, 4.0,0.5, 4.8,1.0, 5.3,-2.3, 6.0,-1.5, 7.5,-1.8, 8.1,-2.0, 8.4,4.5,
  8.7,2.0, 9.4,1.2, 10.4,0.0, 11.2,-1.5, 11.9,-2.0, 13.0,-2.0, 13.3,4.1,
  13.6,2.0, 14.3,1.2, 15.3,0.0, 16.1,-1.5, 16.8,-2.0, 17.9,-2.0, 18.2,4.1,
  18.5,2.0, 19.2,1.2, 20.2,0.0, 21.0,-1.5, 21.7,-2.0, 22.8,-2.0, 23.1,4.1,
  23.4,2.0, 24.1,1.2, 25.1,0.0, 25.9,-1.5, 26.6,-2.0, 27.8,-2.0, 28.1,4.1,
  28.4,2.0, 29.1,1.2, 30.1,0.0, 30.9,-1.5, 31.6,-2.0, 32.8,-2.0, 33.1,4.1,
  33.4,2.0, 34.1,1.2, 35.1,0.0, 35.9,-1.5, 36.6,-2.0, 37.7,-2.0, 38.0,4.1,
  38.3,2.0, 39.0,1.2, 40.0,0.0, 40.8,-1.5, 41.5,-2.0, 42.7,-2.0, 43.0,4.1,
  43.3,2.0, 44.0,1.2, 45.0,0.0, 45.8,-1.5, 46.5,-2.0, 47.9,-2.0, 48.2,4.0,
  48.5,2.0, 49.2,1.2, 50.2,0.0, 51.0,-1.5, 51.7,-2.0, 53.0,-2.0, 53.3,4.1,
  53.6,2.0, 54.3,1.2, 55.3,0.0, 56.1,-1.5, 56.8,-2.0, 58.2,-2.0, 58.5,4.1,
  58.8,2.0, 59.5,1.2, 60.5,0.0, 61.3,-1.5, 62.0,-2.0, 63.2,-2.0, 63.5,4.1,
  63.8,2.0, 64.5,1.2, 65.5,0.0, 66.3,-1.5, 67.0,-2.0, 68.4,-2.0, 68.7,4.1,
  69.0,2.0, 69.7,1.2, 70.7,0.0, 71.5,-1.5, 72.2,-2.0, 73.5,-2.0, 73.8,4.1,
  74.1,2.0, 74.8,1.2, 75.8,0.0, 76.6,-1.5, 77.3,-2.0, 78.8,-2.0, 79.1,4.1,
  79.4,2.0, 80.1,1.2, 81.1,0.0, 81.9,-1.5, 82.6,-2.0, 84.0,-2.0, 84.3,4.1,
  84.6,2.0, 85.3,1.2, 86.3,0.0, 87.1,-1.5, 87.8,-2.0, 89.3,-2.0, 89.6,4.1,
  89.9,2.0, 90.6,1.2, 91.6,0.0, 92.4,-1.5, 93.1,-2.0, 94.5,-2.0, 94.8,4.1,
  95.1,2.0, 95.8,1.2, 96.8,0.0, 97.6,-1.5, 98.3,-2.0, 99.7,-2.0, 100,0.3];
const liPurple = [0,0, 1,-0.4, 2.0,-1.2, 2.6,-0.5, 3.1,1.2, 4.5,1.3, 5.3,0.5, 6.0,-1.5, 7.0,-1.8, 8.9,-1.8, 9.1,1.3,
  10.3,1.2, 10.8,0.0, 11.1,-1.6, 12.2,-1.8, 12.4,1.3,
  14.9,1.3, 15.5,0.0, 15.9,-1.6, 17.2,-1.8, 17.4,1.3,
  19.9,1.3, 20.5,0.0, 20.9,-1.6, 22.2,-1.8, 22.4,1.3,
  24.8,1.3, 25.4,0.0, 25.8,-1.6, 27.0,-1.8, 27.2,1.3,
  29.6,1.3, 30.2,0.0, 30.6,-1.6, 31.8,-1.8, 32.0,1.3,
  34.5,1.3, 35.1,0.0, 35.5,-1.6, 36.8,-1.8, 37.0,1.3,
  39.4,1.3, 40.0,0.0, 40.4,-1.6, 41.6,-1.8, 41.8,1.3,
  44.2,1.3, 44.8,0.0, 45.2,-1.6, 46.4,-1.8, 46.6,1.3,
  49.1,1.3, 49.7,0.0, 50.1,-1.6, 51.4,-1.8, 51.6,1.3,
  54.2,1.3, 54.8,0.0, 55.2,-1.6, 56.6,-1.8, 56.8,1.3,
  59.4,1.3, 60.0,0.0, 60.4,-1.6, 61.8,-1.8, 62.0,1.3,
  64.5,1.3, 65.1,0.0, 65.5,-1.6, 66.9,-1.8, 67.1,1.3,
  69.7,1.3, 70.3,0.0, 70.7,-1.6, 72.1,-1.8, 72.3,1.3,
  74.9,1.3, 75.5,0.0, 75.9,-1.6, 77.3,-1.8, 77.5,1.3,
  80.0,1.3, 80.6,0.0, 81.0,-1.6, 82.4,-1.8, 82.6,1.3,
  85.2,1.3, 85.8,0.0, 86.2,-1.6, 87.6,-1.8, 87.8,1.3,
  90.3,1.3, 90.9,0.0, 91.3,-1.6, 92.7,-1.8, 92.9,1.3,
  95.5,1.3, 96.1,0.0, 96.5,-1.6, 97.9,-1.8, 98.1,1.3,
  100,1.0];

// (e), (f) phase loops: [centre x, centre y, half width, half height]
const eBlack = [[-7.41,4.38,8.52,8.49],[5.86,3.44,6.69,6.67],[0.0,-8.88,8.85,8.58],[-4.84,-2.70,5.52,5.46],[4.27,-2.39,5.05,4.96],
  [0.0,2.2,2.87,2.94],[-1.6,0.1,2.65,2.67],[1.34,-1.7,3.9,2.3],[-1.23,-1.32,1.92,1.32],[2.0,1.0,1.6,1.6],[-0.5,-2.2,2.0,1.5],
  [-2.2,-1.0,1.4,1.1],[-1.8,-0.2,1.1,1.0],[-1.0,-0.6,0.8,0.7],[-0.5,-0.3,0.5,0.5],[0.2,-0.4,0.9,0.7],[-2.5,0.5,1.6,1.4],[-1.3,-0.7,1.3,0.9]];
const eRed = [[4.51,-3.57,5.39,5.33],[-2.73,-1.55,3.41,2.45],[2.95,2.52,3.41,3.25],[2.8,2.45,3.25,3.1],
  [1.9,1.65,1.93,1.65],[1.85,1.7,1.98,1.72],[1.95,1.6,1.88,1.6],[2.0,1.72,2.02,1.78],[1.27,-0.73,1.3,1.1],[-1.5,-0.5,1.4,1.1]];
const eBlue = [[2.7,2.54,3.16,2.98],[2.6,2.5,3.05,2.9],[2.75,2.6,3.25,3.05],[2.65,2.45,3.1,2.85],[2.8,2.55,3.2,2.95],
  [-1.89,-0.92,2.56,1.84],[1.24,-1.18,2.08,1.75],[0.9,-0.8,1.0,0.7],[0.6,-0.4,0.6,0.5]];
const ePurple = [[1.29,1.47,1.41,1.29],[1.25,1.45,1.35,1.25],[1.35,1.5,1.45,1.32],[1.2,1.4,1.3,1.2],[0.8,0.3,0.6,0.5]];

const fBlack = [[-5.78,3.31,6.69,6.74],[7.33,4.21,8.48,8.55],[0.0,-9.04,8.73,8.57],[4.8,-2.71,5.42,5.53],[-4.28,-2.57,4.89,4.92],
  [0.0,2.53,2.4,2.9],[1.0,0.6,2.8,2.6],[-0.8,-1.6,3.0,2.1],[1.9,-1.0,1.9,1.7],[0.2,-2.6,2.0,1.6],[0.7,-0.2,1.0,0.8],
  [0.4,-0.4,0.6,0.5],[1.0,0.2,1.5,1.3],[-0.5,0.8,1.4,1.2],[-2.3,0.0,2.6,2.4],[0.8,-0.5,1.8,1.2]];
const fRed = [[-5.22,-1.99,5.54,5.42],[2.38,-2.02,3.0,3.1],[-3.3,1.37,3.42,3.34],[-1.83,0.69,1.83,2.11],[-1.9,0.75,1.9,2.15],
  [-1.75,0.6,1.75,2.0],[-1.85,0.65,1.8,2.05],[0.17,-0.43,1.77,1.54]];
const fBlue = [[-3.3,0.98,3.42,3.2],[-3.2,0.95,3.3,3.1],[-3.4,1.0,3.5,3.3],[-3.25,0.9,3.35,3.15],[-3.35,1.05,3.4,3.25],
  [1.34,-1.52,2.2,2.26],[-1.78,-0.61,1.9,1.7]];
const fPurple = [[-1.42,-0.07,1.53,1.54],[-1.35,-0.1,1.45,1.45],[-1.5,0.0,1.6,1.6],[-0.3,-0.5,1.2,1.0]];

// ---- drawing ----
const page = document.getElementById('page');
const axisColor = '#9a9a9a';
const labelColor = '#6b6b6b';
const tickFont = {family: 'Liberation Sans', size: 16};

function pts(flat) {
  const out = [];
  for (let i = 0; i < flat.length; i += 2) out.push({x: flat[i], y: flat[i + 1]});
  return out;
}

// closed outline of one loop
function loop(e) {
  const [cx, cy, rx, ry] = e;
  const out = [];
  for (let k = 0; k <= 120; k++) {
    const a = k / 120 * 2 * Math.PI;
    out.push({x: cx + rx * Math.cos(a), y: cy + ry * Math.sin(a)});
  }
  return out;
}

function fmt(v) {
  return v < 0 ? '\u2212' + Math.abs(v) : String(v);
}

// Mathematica-style inward ticks (and frame for the 2D plots)
const mmaTicks = {
  id: 'mmaTicks',
  afterDatasetsDraw(chart, args, opts) {
    const {ctx, chartArea: a, scales: {x, y}} = chart;
    ctx.save();
    ctx.strokeStyle = axisColor;
    ctx.lineWidth = 1;
    ctx.beginPath();
    if (opts.frame) {
      ctx.rect(a.left + 0.5, a.top + 0.5, a.width - 1, a.height - 1);
      for (let v = Math.ceil(x.min); v <= x.max; v++) {
        const len = v % 5 === 0 ? 6 : 3;
        const px = Math.round(x.getPixelForValue(v)) + 0.5;
        ctx.moveTo(px, a.bottom); ctx.lineTo(px, a.bottom - len);
        ctx.moveTo(px, a.top); ctx.lineTo(px, a.top + len);
      }
      for (let v = Math.ceil(y.min); v <= y.max; v++) {
        const len = v % 5 === 0 ? 6 : 3;
        const py = Math.round(y.getPixelForValue(v)) + 0.5;
        ctx.moveTo(a.left, py); ctx.lineTo(a.left + len, py);
        ctx.moveTo(a.right, py); ctx.lineTo(a.right - len, py);
      }
    } else {
      const x0 = Math.round(x.getPixelForValue(0)) + 0.5;
      x.ticks.forEach(t => {
        const px = Math.round(x.getPixelForValue(t.value)) + 0.5;
        ctx.moveTo(px, a.bottom); ctx.lineTo(px, a.bottom - 5);
      });
      y.ticks.forEach(t => {
        const py = Math.round(y.getPixelForValue(t.value)) + 0.5;
        ctx.moveTo(x0, py); ctx.lineTo(x0 + 5, py);
      });
    }
    ctx.stroke();
    ctx.restore();
  }
};

function addCanvas(g) {
  const cv = document.createElement('canvas');
  cv.width = g.w; cv.height = g.h;
  cv.style.left = g.left + 'px';
  cv.style.top = g.top + 'px';
  page.appendChild(cv);
  return cv;
}

function seriesChart(g, series, yTicks) {
  const cv = addCanvas(g);
  new Chart(cv, {
    type: 'scatter',
    data: {
      datasets: series.map((s, i) => ({
        data: pts(s),
        borderColor: lineColors[i],
        borderWidth: 1.2,
        pointRadius: 0,
        showLine: true,
        cubicInterpolationMode: 'monotone',
        order: 4 - i
      }))
    },
    options: {
      responsive: false,
      animation: false,
      devicePixelRatio: 1,
      layout: {padding: g.pad},
      plugins: {legend: {display: false}, tooltip: {enabled: false}, mmaTicks: {frame: false}},
      scales: {
        x: {
          type: 'linear', min: -2, max: 102,
          afterBuildTicks: s => { s.ticks = tTicks.map(v => ({value: v})); },
          afterFit: s => { s.height = g.xh; },
          grid: {display: false, drawTicks: false},
          border: {color: axisColor},
          ticks: {color: labelColor, font: tickFont, padding: 6, maxRotation: 0, autoSkip: false, callback: fmt}
        },
        y: {
          type: 'linear', position: {x: 0}, min: g.yMin, max: g.yMax,
          afterBuildTicks: s => { s.ticks = yTicks.map(v => ({value: v})); },
          grid: {display: false, drawTicks: false},
          border: {color: axisColor},
          ticks: {color: labelColor, font: tickFont, padding: 5, autoSkip: false, callback: fmt}
        }
      }
    },
    plugins: [mmaTicks]
  });
}

function phaseChart(g, groups, xTicks, yTicks) {
  const cv = addCanvas(g);
  const datasets = [];
  groups.forEach((list, i) => {
    list.forEach(e => datasets.push({
      data: loop(e),
      borderColor: lineColors[i],
      borderWidth: 1,
      pointRadius: 0,
      showLine: true,
      tension: 0,
      order: 4 - i
    }));
  });
  new Chart(cv, {
    type: 'scatter',
    data: {datasets},
    options: {
      responsive: false,
      animation: false,
      devicePixelRatio: 1,
      layout: {padding: g.pad},
      plugins: {legend: {display: false}, tooltip: {enabled: false}, mmaTicks: {frame: true}},
      scales: {
        x: {
          type: 'linear', min: g.xMin, max: g.xMax,
          afterBuildTicks: s => { s.ticks = xTicks.map(v => ({value: v})); },
          afterFit: s => { s.height = g.xh; },
          grid: {display: false, drawTicks: false},
          border: {display: false},
          ticks: {color: labelColor, font: tickFont, padding: 9, maxRotation: 0, autoSkip: false, callback: fmt}
        },
        y: {
          type: 'linear', min: g.yMin, max: g.yMax,
          afterBuildTicks: s => { s.ticks = yTicks.map(v => ({value: v})); },
          afterFit: s => { s.width = g.yw; },
          grid: {display: false, drawTicks: false},
          border: {display: false},
          ticks: {color: labelColor, font: tickFont, padding: 5, autoSkip: false, callback: fmt}
        }
      }
    },
    plugins: [mmaTicks]
  });
}

function addLegend(box) {
  const d = document.createElement('div');
  d.className = 'legend';
  d.style.left = box.left + 'px';
  d.style.top = box.top + 'px';
  d.style.width = box.w + 'px';
  d.style.height = box.h + 'px';
  const parts = thetaValues.map((th, i) =>
    '<span style="color:' + dashColors[i] + '">___</span>\u0398=' + th + ',<i>\u03c1</i>=' + rhoValue);
  const span = document.createElement('span');
  span.innerHTML = parts.join(',');
  d.appendChild(span);
  page.appendChild(d);
  fitWidth(span, box.tw);
}

function fitWidth(el, target) {
  const base = parseFloat(getComputedStyle(el).fontSize);
  const w = el.getBoundingClientRect().width;
  if (w > 0) el.style.fontSize = (base * target / w) + 'px';
}

addLegend({left: 6, top: 5, w: 652, h: 46, tw: 629});
addLegend({left: 667, top: 5, w: 645, h: 46, tw: 624});
addLegend({left: 6, top: 537, w: 652, h: 46, tw: 628});
addLegend({left: 667, top: 537, w: 641, h: 46, tw: 624});
addLegend({left: 7, top: 1071, w: 651, h: 46, tw: 631});
addLegend({left: 662, top: 1069, w: 650, h: 46, tw: 630});

document.querySelectorAll('.cap').forEach(c => fitWidth(c, +c.dataset.w));

seriesChart({left: 0, top: 50, w: 660, h: 440, pad: {left: 29.4, right: 26.4, top: 33, bottom: 0}, xh: 34, yMin: -25.1, yMax: 15},
  [mrBlack, mrRed, mrBlue, mrPurple], aYTicks);
seriesChart({left: 660, top: 50, w: 655, h: 440, pad: {left: 25.3, right: 22.3, top: 31, bottom: 0}, xh: 33, yMin: -25.1, yMax: 20},
  [miBlack, miRed, miBlue, miPurple], bYTicks);
seriesChart({left: 0, top: 582, w: 660, h: 440, pad: {left: 29.4, right: 25.4, top: 32, bottom: 0}, xh: 34, yMin: -15, yMax: 25},
  [lrBlack, lrRed, lrBlue, lrPurple], cYTicks);
seriesChart({left: 660, top: 582, w: 655, h: 440, pad: {left: 25.4, right: 25.4, top: 32, bottom: 0}, xh: 34, yMin: -24.9, yMax: 20},
  [liBlack, liRed, liBlue, liPurple], dYTicks);

// canvases start a little higher so the label half-height padding does not push the frame down
phaseChart({left: 0, top: 1100, w: 660, h: 360, yw: 84.4, pad: {left: 0, right: 80, top: 18, bottom: 0}, xh: 37,
  xMin: -16.49, xMax: 13.18, yMin: -19.12, yMax: 14.52}, [eBlack, eRed, eBlue, ePurple], eXTicks, eYTicks);
phaseChart({left: 660, top: 1097, w: 655, h: 365, yw: 75.6, pad: {left: 0, right: 72.2, top: 18, bottom: 0}, xh: 35.3,
  xMin: -13.08, xMax: 16.43, yMin: -19.34, yMax: 14.46}, [fBlack, fRed, fBlue, fPurple], fXTicks, fYTicks);
</script>
</body>
</html>
